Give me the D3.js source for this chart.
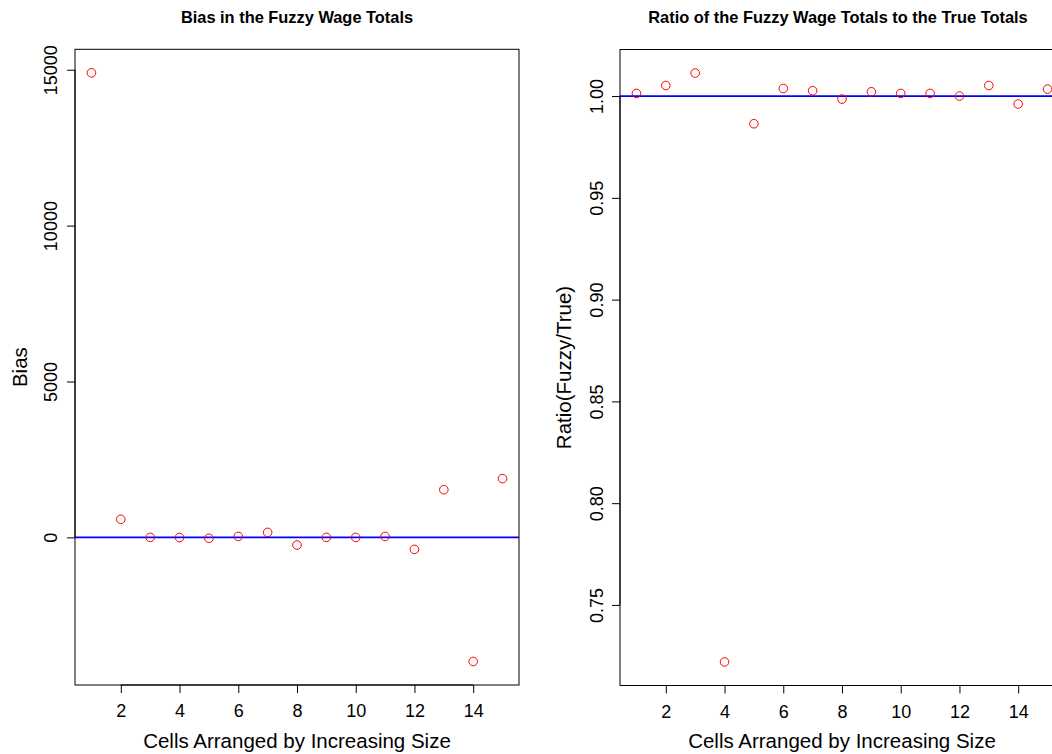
<!DOCTYPE html>
<html>
<head>
<meta charset="utf-8">
<script src="https://cdn.jsdelivr.net/npm/d3@7"></script>
<style>
  body { margin: 0; background: #fff; }
  svg { display: block; font-family: "Liberation Sans", Arial, sans-serif; }
</style>
</head>
<body>
<div id="chart"></div>
<script>
// cells 1..15
const cells = d3.range(1, 16);
const bias = [14900, 580, 0, -5, -30, 30, 160, -245, 0, 0, 30, -385, 1530, -3980, 1885];
const ratio = [1.0013, 1.0052, 1.0113, 0.722, 0.9864, 1.0037, 1.0026, 0.9985, 1.0021, 1.0013, 1.0013, 1.0000, 1.0052, 0.9961, 1.0034];
const xTicks = [2, 4, 6, 8, 10, 12, 14];
const biasTicks = [0, 5000, 10000, 15000];
const ratioTicks = [0.75, 0.80, 0.85, 0.90, 0.95, 1.00];

const W = 1052, H = 754;
const svg = d3.select('#chart').append('svg')
    .attr('width', W)
    .attr('height', H);

// R style axis range: data range extended 4% each side
function rExt(ext) {
    const d = (ext[1] - ext[0]) * 0.04;
    return [ext[0] - d, ext[1] + d];
}

function panel(opts) {
    const { left, right, top, bottom, values, yTicks, yFmt, title, ylab, refLine, ylabX, tickLabX } = opts;

    const x = d3.scaleLinear().domain(rExt(d3.extent(cells))).range([left, right]);
    const y = d3.scaleLinear().domain(rExt(d3.extent(values))).range([bottom, top]);

    const g = svg.append('g');

    // clip region for the reference line
    const id = 'clip' + Math.round(left);
    g.append('clipPath').attr('id', id)
        .append('rect')
        .attr('x', left).attr('y', top)
        .attr('width', right - left).attr('height', bottom - top);

    g.append('line')
        .attr('clip-path', `url(#${id})`)
        .attr('x1', left).attr('x2', right)
        .attr('y1', y(refLine)).attr('y2', y(refLine))
        .attr('stroke', '#0000ff')
        .attr('stroke-width', 1.7);

    g.selectAll('circle.pt')
        .data(cells)
        .join('circle')
        .attr('class', 'pt')
        .attr('cx', d => x(d))
        .attr('cy', (d, i) => y(values[i]))
        .attr('r', 4.3)
        .attr('fill', 'none')
        .attr('stroke', '#ff0000')
        .attr('stroke-width', 1);

    // box
    g.append('rect')
        .attr('x', left).attr('y', top)
        .attr('width', right - left).attr('height', bottom - top)
        .attr('fill', 'none')
        .attr('stroke', '#000')
        .attr('stroke-width', 1);

    // x axis
    const xa = g.append('g')
        .attr('transform', `translate(0,${bottom})`)
        .call(d3.axisBottom(x).tickValues(xTicks).tickSize(8).tickFormat(d3.format('d')));
    xa.select('.domain')
        .attr('d', `M${x(xTicks[0])},0H${x(xTicks[xTicks.length - 1])}`);
    xa.selectAll('text')
        .attr('font-size', 18)
        .attr('fill', '#000')
        .attr('y', 32)
        .attr('dy', null);
    xa.selectAll('line').attr('stroke', '#000');

    // y axis
    const ya = g.append('g')
        .attr('transform', `translate(${left},0)`)
        .call(d3.axisLeft(y).tickValues(yTicks).tickSize(8).tickFormat(yFmt));
    ya.select('.domain')
        .attr('d', `M0,${y(yTicks[0])}V${y(yTicks[yTicks.length - 1])}`);
    ya.selectAll('line').attr('stroke', '#000');
    ya.selectAll('text')
        .attr('font-size', 18)
        .attr('fill', '#000')
        .attr('text-anchor', 'middle')
        .attr('dy', null)
        .attr('x', null)
        .attr('transform', `translate(${tickLabX - left},0) rotate(-90)`);
    svg.selectAll('.tick text').attr('font-family', null);

    // titles
    svg.append('text')
        .attr('x', (left + right) / 2 - (left > 300 ? 4 : 0))
        .attr('y', 23)
        .attr('text-anchor', 'middle')
        .attr('font-size', 16.4)
        .attr('font-weight', 'bold')
        .text(title);

    svg.append('text')
        .attr('x', (left + right) / 2)
        .attr('y', 748)
        .attr('text-anchor', 'middle')
        .attr('font-size', 20.5)
        .text('Cells Arranged by Increasing Size');

    svg.append('text')
        .attr('transform', `translate(${ylabX},${(top + bottom) / 2}) rotate(-90)`)
        .attr('text-anchor', 'middle')
        .attr('font-size', 20.5)
        .text(ylab);
}

panel({
    left: 75, right: 519, top: 49.3, bottom: 685,
    values: bias, yTicks: biasTicks, yFmt: d3.format('d'),
    title: 'Bias in the Fuzzy Wage Totals', ylab: 'Bias', refLine: 0,
    ylabX: 27, tickLabX: 57
});

panel({
    left: 620, right: 1064, top: 49.5, bottom: 685.5,
    values: ratio, yTicks: ratioTicks, yFmt: d3.format('.2f'),
    title: 'Ratio of the Fuzzy Wage Totals to the True Totals', ylab: 'Ratio(Fuzzy/True)', refLine: 1,
    ylabX: 571, tickLabX: 603
});
</script>
</body>
</html>
